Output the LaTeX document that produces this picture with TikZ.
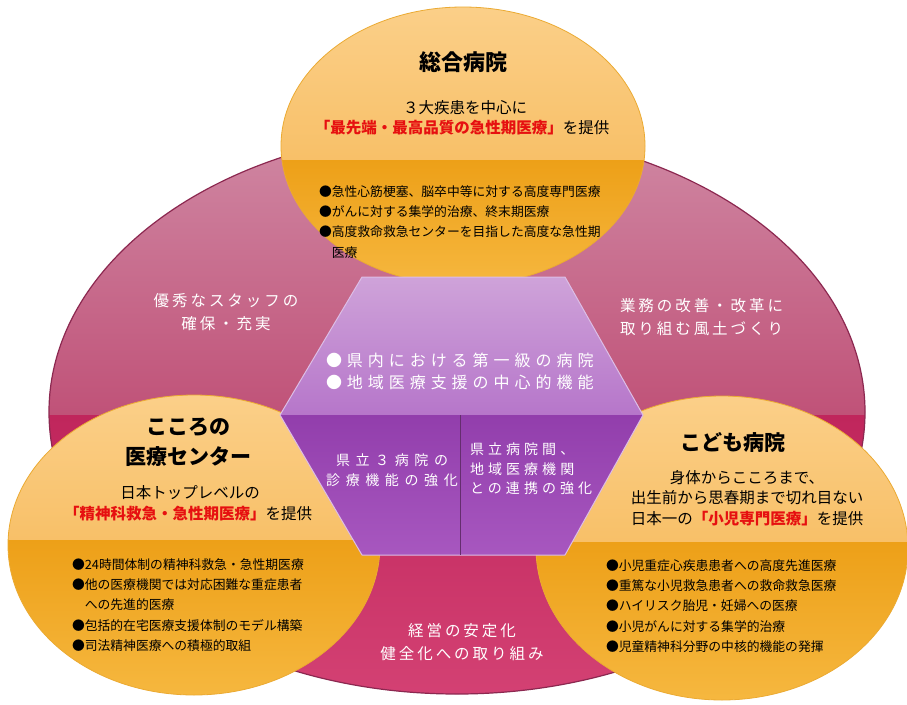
\documentclass[tikz,border=0pt]{standalone}
\usepackage{fontspec}
\setmainfont{Noto Sans CJK JP}
\newfontfamily\jpPink[LetterSpace=19]{Noto Sans CJK JP}
\newfontfamily\jpHexA[LetterSpace=31]{Noto Sans CJK JP}
\newfontfamily\jpHexB[LetterSpace=40]{Noto Sans CJK JP}
\newfontfamily\jpHexC[LetterSpace=29]{Noto Sans CJK JP}
\definecolor{pinkTop}{RGB}{208,138,165}
\definecolor{pinkMid}{RGB}{192,82,120}
\definecolor{crimA}{RGB}{192,38,92}
\definecolor{crimB}{RGB}{212,66,116}
\definecolor{pinkRim}{RGB}{140,40,80}
\definecolor{orLT}{RGB}{251,208,138}
\definecolor{orLB}{RGB}{248,192,104}
\definecolor{orDT}{RGB}{237,160,24}
\definecolor{orDB}{RGB}{246,184,64}
\definecolor{orRim}{RGB}{235,170,50}
\definecolor{hexT}{RGB}{208,165,218}
\definecolor{hexM}{RGB}{182,118,202}
\definecolor{hexLT}{RGB}{146,62,172}
\definecolor{hexLB}{RGB}{168,88,192}
\definecolor{hexRim}{RGB}{220,190,230}
\definecolor{hexLine}{RGB}{100,45,110}
\definecolor{redtxt}{RGB}{230,16,16}
\tikzset{
  title/.style={font=\bfseries\fontsize{21}{30}\selectfont, align=center, text=black},
  sub/.style={font=\fontsize{15.5}{20.5}\selectfont, align=center, text=black},
  bullets/.style={font=\fontsize{12.8}{20.2}\selectfont, align=left, text=black, anchor=west},
  pinktext/.style={font=\jpPink\fontsize{15.5}{22.5}\selectfont, text=white},
  hextextA/.style={font=\jpHexA\fontsize{16}{22}\selectfont, text=white, align=left, anchor=west},
  hextextB/.style={font=\jpHexB\fontsize{14}{19.5}\selectfont, text=white},
  hextextC/.style={font=\jpHexC\fontsize{14}{19.5}\selectfont, text=white},
}
\newcommand{\redpart}[1]{{\color{redtxt}\bfseries #1}}
\begin{document}
\begin{tikzpicture}[x=1pt,y=-1pt, every node/.style={inner sep=0pt, outer sep=0pt}]
\useasboundingbox (0,0) rectangle (907,704);
\fill[white] (0,0) rectangle (907,704);

% background ellipse
\begin{scope}
  \clip (457,412) ellipse [x radius=408pt, y radius=282pt];
  \shade[top color=pinkTop, bottom color=pinkMid] (40,120) rectangle (870,415);
  \shade[top color=crimA, bottom color=crimB] (40,415) rectangle (870,705);
\end{scope}
\draw[pinkRim, line width=1.2pt] (457,412) ellipse [x radius=408pt, y radius=282pt];

% top circle
\begin{scope}
  \clip (463,146) ellipse [x radius=182pt, y radius=139pt];
  \shade[top color=orLT, bottom color=orLB] (270,0) rectangle (660,160);
  \shade[top color=orDT, bottom color=orDB] (270,160) rectangle (660,290);
\end{scope}
\draw[orRim, line width=0.8pt] (463,146) ellipse [x radius=182pt, y radius=139pt];

% left circle
\begin{scope}
  \clip (194,545) ellipse [x radius=186pt, y radius=150pt];
  \shade[top color=orLT, bottom color=orLB] (0,390) rectangle (390,540);
  \shade[top color=orDT, bottom color=orDB] (0,540) rectangle (390,700);
\end{scope}
\draw[orRim, line width=0.8pt] (194,545) ellipse [x radius=186pt, y radius=150pt];

% right circle
\begin{scope}
  \clip (722,548) ellipse [x radius=186pt, y radius=152pt];
  \shade[top color=orLT, bottom color=orLB] (530,390) rectangle (910,542);
  \shade[top color=orDT, bottom color=orDB] (530,542) rectangle (910,704);
\end{scope}
\draw[orRim, line width=0.8pt] (722,548) ellipse [x radius=186pt, y radius=152pt];

% hexagon
\coordinate (h1) at (362,277);
\coordinate (h2) at (565,277);
\coordinate (h3) at (643,415);
\coordinate (h4) at (565,555);
\coordinate (h5) at (362,555);
\coordinate (h6) at (280,415);
\coordinate (dTop) at (460,415);
\coordinate (dBot) at (460,555);
\begin{scope}
  \clip (h1) -- (h2) -- (h3) -- (h4) -- (h5) -- (h6) -- cycle;
  \shade[top color=hexT, bottom color=hexM] (270,270) rectangle (650,415);
  \shade[top color=hexLT, bottom color=hexLB] (270,415) rectangle (650,560);
\end{scope}
\draw[hexRim, line width=1pt, line join=round] (h1) -- (h2) -- (h3) -- (h4) -- (h5) -- (h6) -- cycle;
\draw[hexLine, line width=0.9pt] (dTop) -- (dBot);

% top circle texts
\node[title, font=\bfseries\fontsize{22}{30}\selectfont] (sogoTitle) at (463,62) {総合病院};
\node[sub] (sogoSub1) at (465,108) {３大疾患を中心に};
\node[sub] (sogoSub2) at (462,128) {\redpart{「最先端・最高品質の急性期医療」}を提供};
\node[bullets] (sogoList) at (319,222) {●急性心筋梗塞、脳卒中等に対する高度専門医療\\●がんに対する集学的治療、終末期医療\\●高度救命救急センターを目指した高度な急性期\\\hspace*{1em}医療};

% left circle texts
\node[title] (kokoroTitle) at (188,442) {こころの\\医療センター};
\node[sub] (kokoroSub1) at (190,493) {日本トップレベルの};
\node[sub] (kokoroSub2) at (188,514) {\redpart{「精神科救急・急性期医療」}を提供};
\node[bullets] (kokoroList) at (72,605) {●24時間体制の精神科救急・急性期医療\\●他の医療機関では対応困難な重症患者\\\hspace*{1em}への先進的医療\\●包括的在宅医療支援体制のモデル構築\\●司法精神医療への積極的取組};

% right circle texts
\node[title] (kodomoTitle) at (733,442) {こども病院};
\node[sub] (kodomoSub) at (747,498) {身体からこころまで、\\出生前から思春期まで切れ目ない\\日本一の\redpart{「小児専門医療」}を提供};
\node[bullets] (kodomoList) at (606,606) {●小児重症心疾患患者への高度先進医療\\●重篤な小児救急患者への救命救急医療\\●ハイリスク胎児・妊婦への医療\\●小児がんに対する集学的治療\\●児童精神科分野の中核的機能の発揮};

% hexagon texts
\node[hextextA] (hexTop) at (326,371) {●県内における第一級の病院\\●地域医療支援の中心的機能};
\node[hextextB, align=center] (hexLeft) at (392,470) {県立３病院の\\診療機能の強化};
\node[hextextC, align=left, anchor=west] (hexRight) at (470,469) {県立病院間、\\地域医療機関\\との連携の強化};

% pink area texts
\node[pinktext, align=center] (staff) at (226,312) {優秀なスタッフの\\確保・充実};
\node[pinktext, align=left, anchor=west] (reform) at (620,317) {業務の改善・改革に\\取り組む風土づくり};
\node[pinktext, align=center] (finance) at (462,642) {経営の安定化\\健全化への取り組み};
\end{tikzpicture}
\end{document}
